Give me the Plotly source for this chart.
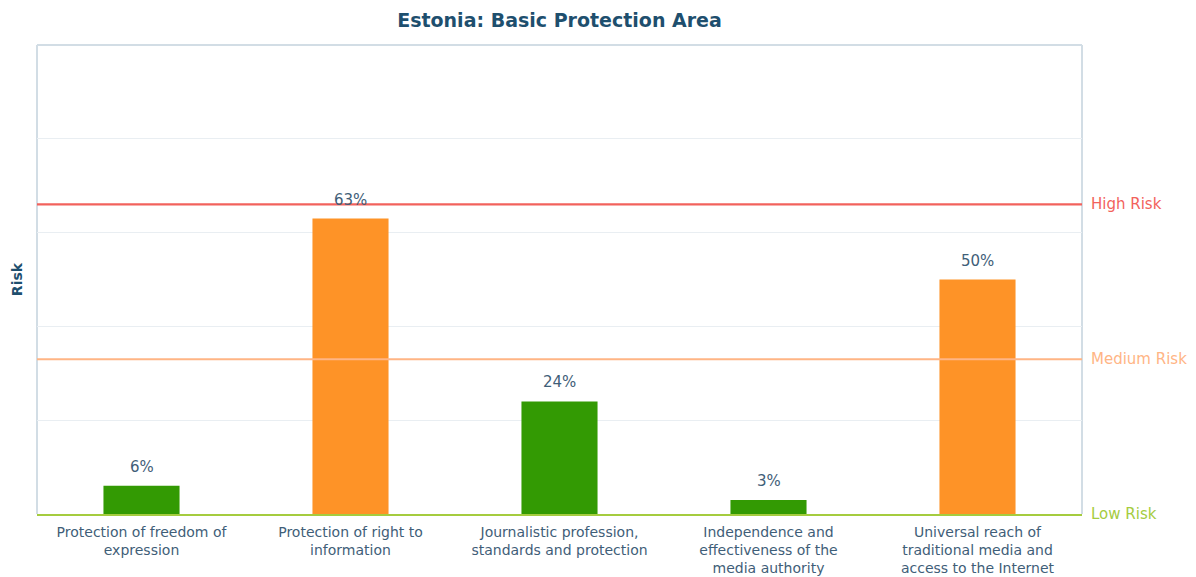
import plotly.graph_objects as go

categories = [
    "Protection of freedom of<br>expression",
    "Protection of right to<br>information",
    "Journalistic profession,<br>standards and protection",
    "Independence and<br>effectiveness of the<br>media authority",
    "Universal reach of<br>traditional media and<br>access to the Internet",
]
values = [6, 63, 24, 3, 50]
risk_names = ["Low Risk", "Medium Risk", "High Risk"]
risk_levels = [0, 33, 66]
risk_colors = ["#a5cc3f", "#ffb585", "#f2625c"]

GREEN = "#339a03"
ORANGE = "#fe9327"
bar_colors = [ORANGE if v > 33 else GREEN for v in values]
TEXT = "#3f5e78"
FONT = "DejaVu Sans"

fig = go.Figure()
fig.add_trace(go.Bar(
    x=categories, y=values, marker=dict(color=bar_colors, line=dict(width=0)),
    hoverinfo="skip",
))

for c, v in zip(categories, values):
    fig.add_annotation(x=c, y=v, text=f"{v}%", showarrow=False, yanchor="bottom",
                       yshift=8, font=dict(family=FONT, size=15, color=TEXT))

for name, lvl, col in zip(risk_names, risk_levels, risk_colors):
    if lvl > 0:
        fig.add_shape(type="line", xref="paper", x0=0, x1=1, yref="y", y0=lvl, y1=lvl,
                      line=dict(color=col, width=2.2), layer="above")
    fig.add_annotation(xref="paper", x=1, xshift=7, y=lvl, yref="y", text=name,
                       showarrow=False, xanchor="left", yanchor="middle",
                       font=dict(family=FONT, size=15, color=col))

border = "#d2dde5"
fig.add_shape(type="line", xref="paper", yref="paper", x0=0, x1=1, y0=1, y1=1,
              line=dict(color=border, width=2), layer="below")
fig.add_shape(type="line", xref="paper", yref="paper", x0=0, x1=0, y0=0, y1=1,
              line=dict(color=border, width=2), layer="below")
fig.add_shape(type="line", xref="paper", yref="paper", x0=1, x1=1, y0=0, y1=1,
              line=dict(color=border, width=2), layer="below")

fig.update_layout(
    width=1196, height=577,
    margin=dict(l=37, r=114, t=45, b=63),
    paper_bgcolor="white", plot_bgcolor="white",
    bargap=0.636, showlegend=False,
    title=dict(text="<b>Estonia: Basic Protection Area</b>", x=559.5 / 1196,
               xanchor="center", y=1 - 20 / 577, yanchor="middle",
               font=dict(family=FONT, size=19, color="#1e4f6e")),
    font=dict(family=FONT, color=TEXT),
)
fig.update_yaxes(range=[0, 100], dtick=20, showticklabels=False, gridcolor="#e9eef2",
                 gridwidth=1, zeroline=False, showline=False, automargin=False,
                 title=dict(text="<b>Risk</b>", font=dict(family=FONT, size=14, color="#1e4f6e"), standoff=10))
fig.update_xaxes(showgrid=False, showline=True, linecolor=risk_colors[0], linewidth=2.2,
                 ticks="", ticklabelstandoff=4, automargin=False,
                 tickfont=dict(family=FONT, size=14, color=TEXT))

fig.write_html("out.html")
